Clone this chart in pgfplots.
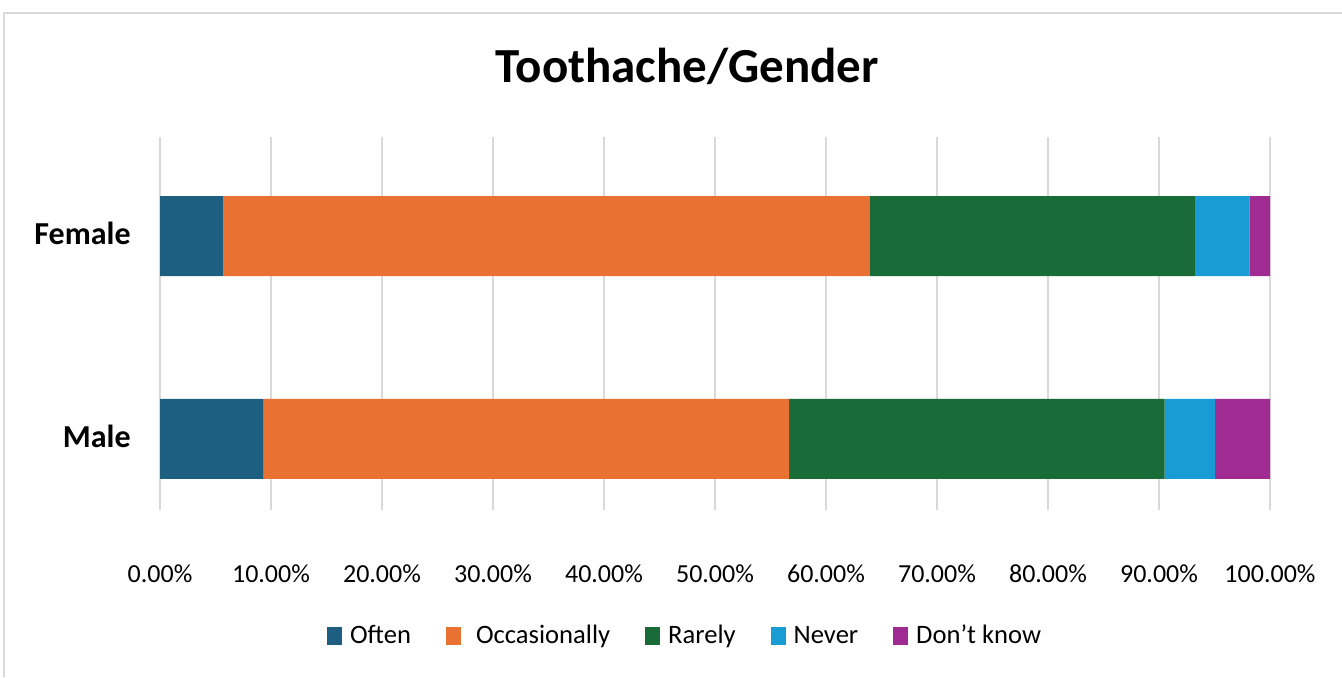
\documentclass[border=0pt]{standalone}
\usepackage{pgfplots}
\pgfplotsset{compat=1.18}
\usepackage{fontspec}
\setmainfont{Carlito}
\definecolor{often}{HTML}{1D5F80}
\definecolor{occas}{HTML}{E97132}
\definecolor{rarely}{HTML}{196B38}
\definecolor{never}{HTML}{199CD6}
\definecolor{dontknow}{HTML}{A02B93}
\definecolor{gridgray}{HTML}{D9D9D9}
\begin{document}
\begin{tikzpicture}
\useasboundingbox (0,0) rectangle (671pt,338.5pt);
\draw[color=gridgray, line width=1pt] (1.75pt,0) -- (1.75pt,332pt) -- (671pt,332pt);
\begin{axis}[
  at={(80pt,83.5pt)}, anchor=south west,
  scale only axis, width=555pt, height=186.5pt,
  xbar stacked, bar width=40pt,
  xmin=0, xmax=100, ymin=-0.35, ymax=1.488,
  xtick={0,10,...,100},
  xticklabels={0.00\%,10.00\%,20.00\%,30.00\%,40.00\%,50.00\%,60.00\%,70.00\%,80.00\%,90.00\%,100.00\%},
  ytick={0,1}, yticklabels={Male,Female},
  axis line style={draw=none},
  major tick length=0pt,
  xmajorgrids, grid style={color=gridgray, line width=1pt},
  xticklabel style={font=\fontsize{13}{16}\selectfont, anchor=base, yshift=-36pt},
  yticklabel style={font=\bfseries\fontsize{16}{19}\selectfont, anchor=east, inner sep=0pt, xshift=-14.5pt, yshift=1.5pt},
  title={Toothache/Gender},
  title style={at={(0.475,1)}, anchor=base, yshift=21.5pt, font=\bfseries\fontsize{24.5}{29}\selectfont},
  legend style={at={(0.474,-0.338)}, anchor=center, legend columns=-1, draw=none,
    font=\fontsize{13.3}{16}\selectfont,
    /tikz/every even column/.append style={column sep=15.5pt},
    /tikz/every odd column/.append style={column sep=2pt},
    nodes={inner xsep=2pt}},
  legend image code/.code={\fill[#1] (0pt,-4.5pt) rectangle (7.5pt,4.5pt);},
  every axis plot/.append style={draw=none},
]
\addplot[fill=often] coordinates {(9.30,0) (5.70,1)};
\addplot[fill=occas] coordinates {(47.37,0) (58.26,1)};
\addplot[fill=rarely] coordinates {(33.83,0) (29.28,1)};
\addplot[fill=never] coordinates {(4.55,0) (4.89,1)};
\addplot[fill=dontknow] coordinates {(4.95,0) (1.87,1)};
\legend{Often,\hspace{3.5pt}Occasionally,Rarely,Never,Don’t know}
\end{axis}
\end{tikzpicture}
\end{document}
